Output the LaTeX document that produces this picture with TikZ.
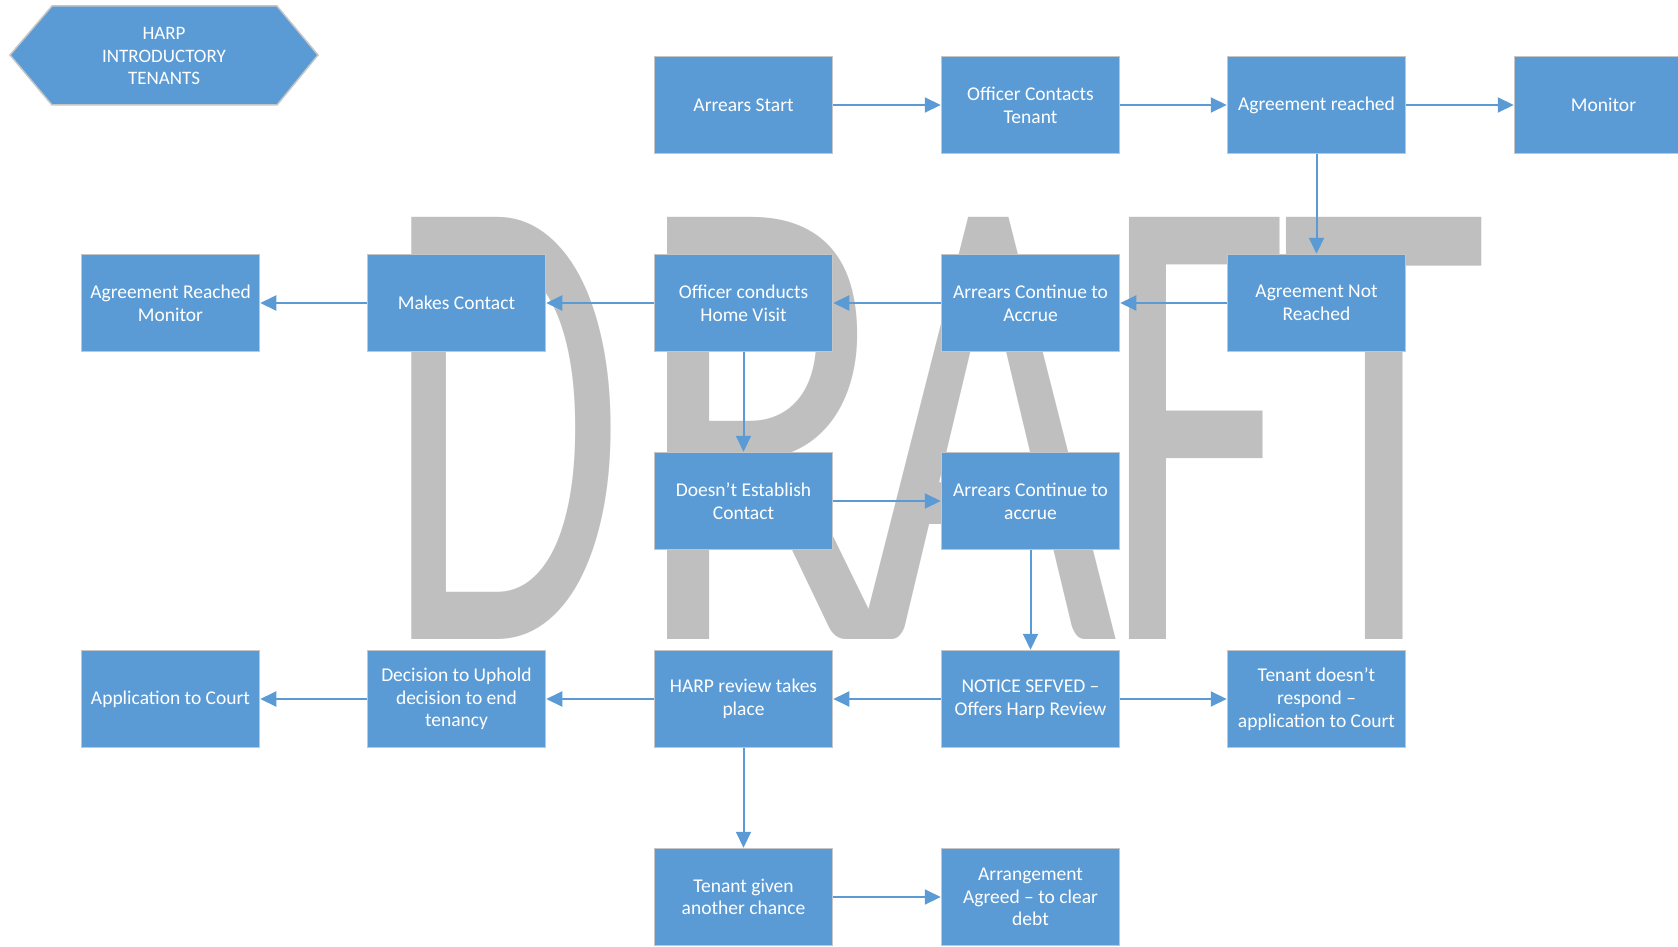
\documentclass[tikz,border=0pt]{standalone}
\usepackage{fontspec}
\usepackage{graphicx}
\setmainfont{Carlito}
\usetikzlibrary{arrows.meta}
\definecolor{boxblue}{HTML}{5B9BD5}
\definecolor{boxline}{HTML}{C6C6C6}
\definecolor{wmgrey}{HTML}{BFBFBF}
\tikzset{
  box/.style={draw=boxline, line width=1.5pt, fill=boxblue, text=white,
    minimum width=178pt, minimum height=97pt, align=center, inner sep=2pt,
    font=\fontsize{19.5}{22.7}\selectfont},
  arr/.style={draw=boxblue, line width=2pt, -{Triangle[length=16pt,width=15pt]}},
  wmletter/.style={text=wmgrey, inner sep=0pt, anchor=base,
    font=\fontsize{658}{700}\selectfont},
  hexshape/.style={draw=boxline, line width=1.5pt, fill=boxblue},
  hextext/.style={text=white, align=center, font=\fontsize{19}{22.5}\selectfont}
}
\begin{document}
\begin{tikzpicture}[x=1pt, y=-1pt]
\useasboundingbox (0,0) rectangle (1678,947);
% watermark
\node[wmletter] (wD) at (505,639) {\scalebox{0.589}[1]{D}};
\node[wmletter] (wR) at (762,639) {\scalebox{0.72}[1]{R}};
\node[wmletter] (wA) at (988.5,639) {\scalebox{0.678}[1]{A}};
\node[wmletter] (wF) at (1197,639) {\scalebox{0.63}[1]{F}};
\node[wmletter] (wT) at (1384.5,639) {\scalebox{0.64}[1]{T}};
% title hexagon
\draw[hexshape] (10,55) -- (52,6) -- (277,6) -- (318,55) -- (277,105) -- (52,105) -- cycle;
\node[hextext] (title) at (164,56) {HARP\\INTRODUCTORY\\TENANTS};
% row 1
\node[box] (a1) at (743.5,105) {Arrears Start};
\node[box] (a2) at (1030.5,105) {Officer Contacts\\Tenant};
\node[box] (a3) at (1316.5,105) {Agreement reached};
\node[box] (a4) at (1603.5,105) {Monitor};
% row 2
\node[box] (b1) at (170.5,303) {Agreement Reached\\Monitor};
\node[box] (b2) at (456.5,303) {Makes Contact};
\node[box] (b3) at (743.5,303) {Officer conducts\\Home Visit};
\node[box] (b4) at (1030.5,303) {Arrears Continue to\\Accrue};
\node[box] (b5) at (1316.5,303) {Agreement Not\\Reached};
% row 3
\node[box] (c3) at (743.5,501) {Doesn’t Establish\\Contact};
\node[box] (c4) at (1030.5,501) {Arrears Continue to\\accrue};
% row 4
\node[box] (d1) at (170.5,699) {Application to Court};
\node[box] (d2) at (456.5,699) {Decision to Uphold\\decision to end\\tenancy};
\node[box] (d3) at (743.5,699) {HARP review takes\\place};
\node[box] (d4) at (1030.5,699) {NOTICE SEFVED –\\Offers Harp Review};
\node[box] (d5) at (1316.5,699) {Tenant doesn’t\\respond –\\application to Court};
% row 5
\node[box] (e3) at (743.5,897) {Tenant given\\another chance};
\node[box] (e4) at (1030.5,897) {Arrangement\\Agreed – to clear\\debt};
% connectors
\draw[arr] (a1) -- (a2);
\draw[arr] (a2) -- (a3);
\draw[arr] (a3) -- (a4);
\draw[arr] (a3) -- (b5);
\draw[arr] (b5) -- (b4);
\draw[arr] (b4) -- (b3);
\draw[arr] (b3) -- (b2);
\draw[arr] (b2) -- (b1);
\draw[arr] (b3) -- (c3);
\draw[arr] (c3) -- (c4);
\draw[arr] (c4) -- (d4);
\draw[arr] (d4) -- (d3);
\draw[arr] (d4) -- (d5);
\draw[arr] (d3) -- (d2);
\draw[arr] (d2) -- (d1);
\draw[arr] (d3) -- (e3);
\draw[arr] (e3) -- (e4);
\end{tikzpicture}
\end{document}
